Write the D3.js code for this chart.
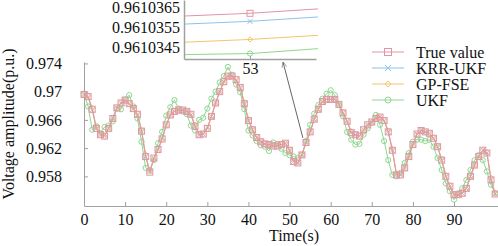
<!DOCTYPE html>
<html lang="en">
<head>
  <meta charset="UTF-8" />
  <title>Voltage amplitude</title>
  <script src="https://cdn.jsdelivr.net/npm/d3@7/dist/d3.min.js"></script>
  <style>
    body { margin: 0; background: #fff; }
    svg text { font-family: "Liberation Serif", "Times New Roman", serif; font-size: 16px; fill: #111; }
  </style>
</head>
<body>
  <div id="chart"></div>
  <script>
    var w = 498;
    var h = 246;
    var serif = "'Liberation Serif', 'Times New Roman', serif";

    // values, one per second (t = 0..100)
    var trueVal = [0.9696,0.9693,0.9675,0.9648,0.9639,0.9637,0.9648,0.9662,0.9677,0.9684,
      0.9688,0.9683,0.9676,0.9668,0.9644,0.9608,0.9586,0.9606,0.9618,0.9633,
      0.9653,0.9667,0.9672,0.9674,0.9674,0.9672,0.9668,0.9651,0.9639,0.9640,
      0.9648,0.9665,0.9684,0.9700,0.9714,0.9722,0.9722,0.9717,0.9706,0.9683,
      0.9659,0.9646,0.9635,0.9629,0.9626,0.9625,0.9623,0.9623,0.9625,0.9627,
      0.9617,0.9601,0.9599,0.9610362,0.9628,0.9643,0.9661,0.9675,0.9686,0.9689,
      0.9689,0.9689,0.9682,0.9670,0.9658,0.9642,0.9639,0.9637,0.9646,0.9653,
      0.9657,0.9662,0.9664,0.9659,0.9643,0.9617,0.9582,0.9582,0.9592,0.9608,
      0.9625,0.9640,0.9645,0.9643,0.9641,0.9634,0.9622,0.9603,0.9580,0.9566,
      0.9554,0.9554,0.9556,0.9563,0.9580,0.9596,0.9608,0.9617,0.9613,0.9575,
      0.9555];

    var krrUkf = [0.9696,0.9692,0.9674,0.9648,0.9639,0.9638,0.9648,0.9663,0.9677,0.9684,
      0.9688,0.9683,0.9676,0.9667,0.9644,0.9608,0.9587,0.9606,0.9618,0.9634,
      0.9653,0.9667,0.9672,0.9674,0.9674,0.9672,0.9667,0.9651,0.9639,0.9640,
      0.9649,0.9665,0.9684,0.9700,0.9714,0.9722,0.9722,0.9716,0.9706,0.9683,
      0.9659,0.9646,0.9635,0.9629,0.9626,0.9625,0.9623,0.9623,0.9625,0.9627,
      0.9617,0.9601,0.9599,0.9610358,0.9628,0.9643,0.9661,0.9675,0.9686,0.9689,
      0.9689,0.9689,0.9682,0.9670,0.9658,0.9642,0.9639,0.9637,0.9646,0.9653,
      0.9657,0.9662,0.9664,0.9659,0.9643,0.9617,0.9583,0.9582,0.9592,0.9608,
      0.9625,0.9640,0.9645,0.9643,0.9641,0.9634,0.9622,0.9603,0.9580,0.9566,
      0.9554,0.9554,0.9556,0.9563,0.9580,0.9596,0.9608,0.9617,0.9613,0.9575,
      0.9555];

    var gpFse = [0.9696,0.9694,0.9677,0.9650,0.9640,0.9637,0.9647,0.9661,0.9676,0.9684,
      0.9688,0.9684,0.9677,0.9669,0.9646,0.9611,0.9587,0.9604,0.9617,0.9632,
      0.9652,0.9666,0.9672,0.9674,0.9674,0.9672,0.9668,0.9653,0.9640,0.9640,
      0.9647,0.9664,0.9683,0.9699,0.9713,0.9722,0.9722,0.9718,0.9707,0.9685,
      0.9661,0.9647,0.9636,0.9630,0.9626,0.9625,0.9623,0.9623,0.9625,0.9627,
      0.9618,0.9602,0.9599,0.9610349,0.9627,0.9642,0.9660,0.9674,0.9685,0.9689,
      0.9689,0.9689,0.9683,0.9671,0.9659,0.9644,0.9639,0.9637,0.9645,0.9652,
      0.9657,0.9662,0.9664,0.9660,0.9645,0.9619,0.9584,0.9582,0.9591,0.9607,
      0.9624,0.9639,0.9645,0.9643,0.9641,0.9635,0.9623,0.9605,0.9582,0.9567,
      0.9555,0.9554,0.9556,0.9562,0.9579,0.9595,0.9607,0.9617,0.9614,0.9578,
      0.9556];

    var ukf = [0.9697,0.9679,0.9646,0.9651,0.9641,0.9650,0.9652,0.9658,0.9676,0.9675,
      0.9689,0.9695,0.9679,0.9662,0.9629,0.9592,0.9589,0.9603,0.9627,0.9643,
      0.9666,0.9678,0.9688,0.9676,0.9672,0.9668,0.9652,0.9645,0.9660,0.9663,
      0.9676,0.9690,0.9700,0.9713,0.9722,0.9735,0.9724,0.9710,0.9699,0.9675,
      0.9645,0.9638,0.9630,0.9624,0.9622,0.9616,0.9628,0.9626,0.9619,0.9613,
      0.9610,0.9608,0.9606,0.9610342,0.9630,0.9653,0.9669,0.9681,0.9690,0.9697,
      0.9702,0.9695,0.9681,0.9665,0.9643,0.9632,0.9625,0.9626,0.9639,0.9648,
      0.9656,0.9667,0.9653,0.9630,0.9603,0.9582,0.9580,0.9585,0.9599,0.9613,
      0.9629,0.9632,0.9632,0.9630,0.9632,0.9622,0.9606,0.9589,0.9570,0.9559,
      0.9547,0.9556,0.9563,0.9575,0.9589,0.9603,0.9610,0.9603,0.9587,0.9568,
      0.9556];

    var seriesNames = ["True value", "KRR-UKF", "GP-FSE", "UKF"];
    var xTicks = [0, 10, 20, 30, 40, 50, 60, 70, 80, 90];
    var yTicks = [0.958, 0.962, 0.966, 0.97, 0.974];
    var yTickLabels = ["0.958", "0.962", "0.966", "0.97", "0.974"];
    var zoomT = 53;
    var zoomTicks = [0.9610345, 0.9610355, 0.9610365];

    var series = [
      { name: seriesNames[0], values: trueVal, color: "#e394a6", mark: "square" },
      { name: seriesNames[1], values: krrUkf, color: "#8cc3ee", mark: "cross" },
      { name: seriesNames[2], values: gpFse, color: "#f4c46e", mark: "diamond" },
      { name: seriesNames[3], values: ukf, color: "#8ed88e", mark: "circle" }
    ];
    // drawing order: UKF at the back, true value on top
    var drawOrder = [3, 1, 2, 0];

    var svg = d3.select("#chart").append("svg")
      .attr("width", w)
      .attr("height", h);

    var x = d3.scaleLinear().domain([0, 100.7]).range([84, 498]);
    var y = d3.scaleLinear().domain([0.9538, 0.9742]).range([206, 62]);

    function drawMark(g, kind, cx, cy, color, s) {
      if (kind == "square") {
        g.append("rect").attr("x", cx - s).attr("y", cy - s)
          .attr("width", 2 * s).attr("height", 2 * s)
          .attr("fill", "none").attr("stroke", color).attr("stroke-width", 1);
      } else if (kind == "circle") {
        g.append("circle").attr("cx", cx).attr("cy", cy).attr("r", s)
          .attr("fill", "none").attr("stroke", color).attr("stroke-width", 1);
      } else if (kind == "diamond") {
        g.append("path")
          .attr("d", "M" + cx + "," + (cy - s) + "L" + (cx + s) + "," + cy + "L" + cx + "," + (cy + s) + "L" + (cx - s) + "," + cy + "Z")
          .attr("fill", "none").attr("stroke", color).attr("stroke-width", 1);
      } else {
        g.append("path")
          .attr("d", "M" + (cx - s) + "," + (cy - s) + "L" + (cx + s) + "," + (cy + s) + "M" + (cx + s) + "," + (cy - s) + "L" + (cx - s) + "," + (cy + s))
          .attr("fill", "none").attr("stroke", color).attr("stroke-width", 1);
      }
    }

    function styleAxis(g) {
      g.attr("font-family", serif).attr("font-size", 16);
      g.selectAll(".domain, .tick line").attr("stroke", "#a0a0a0");
      g.selectAll(".tick text")
        .style("font-family", serif)
        .style("font-size", "16px")
        .attr("fill", "#111");
    }

    // axes (gray, ticks pointing inwards)
    var xAxis = svg.append("g")
      .attr("transform", "translate(0," + y.range()[0] + ")")
      .call(d3.axisBottom(x).tickValues(xTicks).tickSizeInner(-4).tickSizeOuter(0).tickPadding(8));
    styleAxis(xAxis);
    var yAxis = svg.append("g")
      .attr("transform", "translate(" + x.range()[0] + ",0)")
      .call(d3.axisLeft(y).tickValues(yTicks).tickSizeInner(-4).tickSizeOuter(0).tickPadding(22)
        .tickFormat(function(d, i) { return yTickLabels[i]; }));
    styleAxis(yAxis);

    // main lines and markers
    var line = d3.line()
      .x(function(d, i) { return x(i); })
      .y(function(d) { return y(d); });

    drawOrder.forEach(function(k) {
      var s = series[k];
      var g = svg.append("g");
      g.append("path")
        .datum(s.values)
        .attr("d", line)
        .attr("fill", "none")
        .attr("stroke", s.color)
        .attr("stroke-width", 1);
      s.values.forEach(function(v, i) {
        drawMark(g, s.mark, x(i), y(v), s.color, s.mark == "square" ? 3 : 2.6);
      });
    });

    // axis titles
    svg.append("text")
      .attr("transform", "translate(14," + 124 + ") rotate(-90)")
      .attr("text-anchor", "middle")
      .text("Voltage amplitude(p.u.)");
    svg.append("text")
      .attr("x", 294)
      .attr("y", 241)
      .attr("text-anchor", "middle")
      .text("Time(s)");

    // inset around t = 53
    var ix = d3.scaleLinear().domain([zoomT - 0.00012, zoomT + 0.00012]).range([184, 316]);
    var iy = d3.scaleLinear().domain([0.96103393, 0.96103686]).range([59, 0]);

    svg.append("defs").append("clipPath").attr("id", "insetClip")
      .append("rect").attr("x", 184).attr("y", 0).attr("width", 134).attr("height", 59);

    var inset = svg.append("g");
    inset.append("rect").attr("x", 184).attr("y", 0).attr("width", 134).attr("height", 59).attr("fill", "#fff");

    var insetLine = d3.line()
      .x(function(d) { return ix(d.t); })
      .y(function(d) { return iy(d.v); });

    drawOrder.forEach(function(k) {
      var s = series[k];
      var pts = [zoomT - 1, zoomT, zoomT + 1].map(function(t) { return { t: t, v: s.values[t] }; });
      var g = inset.append("g").attr("clip-path", "url(#insetClip)");
      g.append("path")
        .attr("d", insetLine(pts))
        .attr("fill", "none")
        .attr("stroke", s.color)
        .attr("stroke-width", 1);
      drawMark(g, s.mark, ix(zoomT), iy(s.values[zoomT]), s.color, s.mark == "square" ? 3 : 2.6);
    });

    var ixAxis = inset.append("g")
      .attr("transform", "translate(0,59)")
      .call(d3.axisBottom(ix).tickValues([zoomT]).tickSizeInner(-3).tickSizeOuter(0).tickPadding(4)
        .tickFormat(d3.format("d")));
    styleAxis(ixAxis);
    var iyAxis = inset.append("g")
      .attr("transform", "translate(184,0)")
      .call(d3.axisLeft(iy).tickValues(zoomTicks).tickSizeInner(0).tickSizeOuter(0).tickPadding(4)
        .tickFormat(d3.format(".7f")));
    styleAxis(iyAxis);
    inset.selectAll(".domain").attr("stroke-width", 1.5);

    // arrow from the data point up to the inset
    svg.append("defs").append("marker")
      .attr("id", "arrowHead")
      .attr("viewBox", "0 0 10 10")
      .attr("refX", 9).attr("refY", 5)
      .attr("markerWidth", 6).attr("markerHeight", 6)
      .attr("orient", "auto")
      .append("path").attr("d", "M0,1L9,5L0,9").attr("fill", "none").attr("stroke", "#666");
    svg.append("line")
      .attr("x1", x(zoomT) + 1).attr("y1", y(trueVal[zoomT]) - 17)
      .attr("x2", 283).attr("y2", 62)
      .attr("stroke", "#666")
      .attr("stroke-width", 1)
      .attr("marker-end", "url(#arrowHead)");

    // legend
    var legend = svg.append("g");
    series.forEach(function(s, i) {
      var ly = 52 + i * 16;
      legend.append("line")
        .attr("x1", 372).attr("x2", 404)
        .attr("y1", ly).attr("y2", ly)
        .attr("stroke", s.color).attr("stroke-width", 1);
      drawMark(legend, s.mark, 388, ly, s.color, s.mark == "square" ? 3.5 : 3);
      legend.append("text")
        .attr("x", 416)
        .attr("y", ly)
        .attr("dy", "0.35em")
        .text(s.name);
    });
  </script>
</body>
</html>
